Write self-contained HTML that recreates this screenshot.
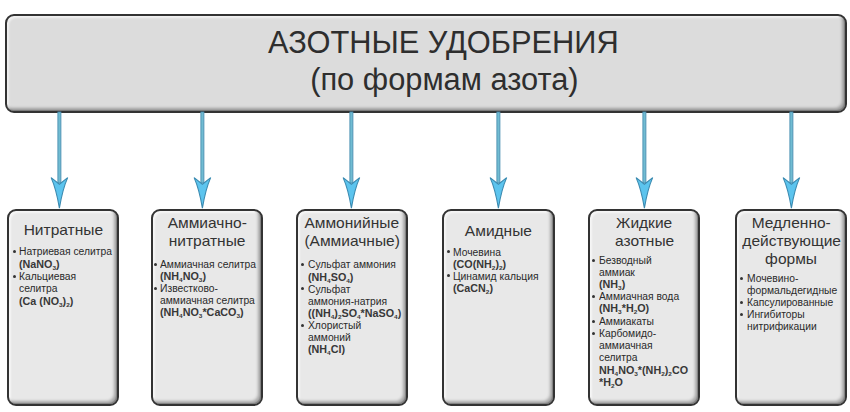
<!DOCTYPE html>
<html><head><meta charset="utf-8">
<style>
html,body{margin:0;padding:0;background:#fff;width:850px;height:412px;overflow:hidden;position:relative;font-family:"Liberation Sans",sans-serif;color:#333;}
.bx{position:absolute;box-sizing:border-box;border:2px solid #333;border-radius:9px;
 box-shadow: inset -3px -3px 3px rgba(0,0,0,0.28), inset -1px -1px 1px rgba(0,0,0,0.25), inset 2px 2px 2px rgba(255,255,255,0.6);}
.hdr{background:#dcdcdc;}
.box{background:#e8e8e8;}
.ht{position:absolute;white-space:nowrap;font-size:30.8px;line-height:30.8px;color:#2e2e2e;}
.tw{position:absolute;text-align:center;white-space:nowrap;font-size:15px;line-height:15px;}
.t{display:inline-block;font-size:15px;line-height:15px;color:#333;-webkit-text-stroke:0px #333;transform:scaleX(1.035);transform-origin:50% 0;}
.l{position:absolute;white-space:nowrap;font-size:10px;line-height:10px;color:#2a2a2a;-webkit-text-stroke:0.0px #2a2a2a;transform:scaleX(1.03);transform-origin:0 0;}
.f{font-weight:bold;-webkit-text-stroke:0px #333;color:#383838;font-size:10px;line-height:10px;transform:scaleX(1.075);}
.dot{position:absolute;width:3px;height:3px;border-radius:50%;background:#333;}
sub{font-size:6.0px;vertical-align:-2.0px;line-height:0;}
svg{position:absolute;left:0;top:0;}
</style></head><body>
<div class="bx hdr" style="left:5.4px;top:13.5px;width:841.9px;height:99.1px;border-width:2px;"></div>
<div class="ht" style="left:268px;top:28.00px;">АЗОТНЫЕ УДОБРЕНИЯ</div>
<div class="ht" style="left:310.2px;top:65.30px;">(по формам азота)</div>
<svg width="850" height="412" viewBox="0 0 850 412"><rect x="57.9" y="112" width="3" height="71" fill="#70bcd2" stroke="#4b8fb2" stroke-width="0.9"/><path d="M51.1,177.6 Q56.2,189 59.4,208.2 Q62.6,189 67.7,177.6 L59.4,184.2 Z" fill="#5cc4ee" stroke="#3b8ab0" stroke-width="1.1" stroke-linejoin="miter"/><rect x="200.9" y="112" width="3" height="71" fill="#70bcd2" stroke="#4b8fb2" stroke-width="0.9"/><path d="M194.1,177.6 Q199.2,189 202.4,208.2 Q205.6,189 210.7,177.6 L202.4,184.2 Z" fill="#5cc4ee" stroke="#3b8ab0" stroke-width="1.1" stroke-linejoin="miter"/><rect x="349.9" y="112" width="3" height="71" fill="#70bcd2" stroke="#4b8fb2" stroke-width="0.9"/><path d="M343.1,177.6 Q348.2,189 351.4,208.2 Q354.6,189 359.7,177.6 L351.4,184.2 Z" fill="#5cc4ee" stroke="#3b8ab0" stroke-width="1.1" stroke-linejoin="miter"/><rect x="496.9" y="112" width="3" height="71" fill="#70bcd2" stroke="#4b8fb2" stroke-width="0.9"/><path d="M490.1,177.6 Q495.2,189 498.4,208.2 Q501.6,189 506.7,177.6 L498.4,184.2 Z" fill="#5cc4ee" stroke="#3b8ab0" stroke-width="1.1" stroke-linejoin="miter"/><rect x="642.9" y="112" width="3" height="71" fill="#70bcd2" stroke="#4b8fb2" stroke-width="0.9"/><path d="M636.1,177.6 Q641.2,189 644.4,208.2 Q647.6,189 652.7,177.6 L644.4,184.2 Z" fill="#5cc4ee" stroke="#3b8ab0" stroke-width="1.1" stroke-linejoin="miter"/><rect x="789.9" y="112" width="3" height="71" fill="#70bcd2" stroke="#4b8fb2" stroke-width="0.9"/><path d="M783.1,177.6 Q788.2,189 791.4,208.2 Q794.6,189 799.7,177.6 L791.4,184.2 Z" fill="#5cc4ee" stroke="#3b8ab0" stroke-width="1.1" stroke-linejoin="miter"/></svg>
<div class="bx box" style="left:7.2px;top:209.4px;width:111.8px;height:196.6px;"></div>
<div class="tw" style="left:7.2px;width:111.8px;top:221.70px;"><span class="t">Нитратные</span></div>
<div class="dot" style="left:12.6px;top:250.1px;"></div>
<div class="l" style="left:19px;top:247.30px;">Натриевая селитра</div>
<div class="l f" style="left:19px;top:260.00px;">(NaNO<sub>3</sub>)</div>
<div class="dot" style="left:12.6px;top:274.5px;"></div>
<div class="l" style="left:19px;top:271.70px;">Кальциевая</div>
<div class="l" style="left:19px;top:284.00px;">селитра</div>
<div class="l f" style="left:19px;top:296.50px;">(Ca (NO<sub>3</sub>)<sub>2</sub>)</div>
<div class="bx box" style="left:150.5px;top:209.4px;width:112.5px;height:196.6px;"></div>
<div class="tw" style="left:150.5px;width:112.5px;top:214.90px;"><span class="t">Аммиачно-</span></div>
<div class="tw" style="left:150.5px;width:112.5px;top:233.30px;"><span class="t">нитратные</span></div>
<div class="dot" style="left:154.4px;top:262.7px;"></div>
<div class="l" style="left:160.3px;top:259.90px;">Аммиачная селитра</div>
<div class="l f" style="left:160.3px;top:272.00px;">(NH<sub>4</sub>NO<sub>3</sub>)</div>
<div class="dot" style="left:154.4px;top:286.5px;"></div>
<div class="l" style="left:160.3px;top:283.70px;">Известково-</div>
<div class="l" style="left:160.3px;top:295.60px;">аммиачная селитра</div>
<div class="l f" style="left:160.3px;top:308.00px;">(NH<sub>4</sub>NO<sub>3</sub>*CaCO<sub>3</sub>)</div>
<div class="bx box" style="left:296.3px;top:209.4px;width:111.7px;height:196.6px;"></div>
<div class="tw" style="left:296.3px;width:111.7px;top:214.60px;"><span class="t">Аммонийные</span></div>
<div class="tw" style="left:296.3px;width:111.7px;top:232.70px;"><span class="t">(Аммиачные)</span></div>
<div class="dot" style="left:300.9px;top:263.0px;"></div>
<div class="l" style="left:307.7px;top:260.20px;">Сульфат аммония</div>
<div class="l f" style="left:307.7px;top:272.50px;">(NH<sub>4</sub>SO<sub>4</sub>)</div>
<div class="dot" style="left:300.9px;top:287.4px;"></div>
<div class="l" style="left:307.7px;top:284.60px;">Сульфат</div>
<div class="l" style="left:307.7px;top:296.70px;">аммония-натрия</div>
<div class="l f" style="left:307.7px;top:308.80px;">((NH<sub>4</sub>)<sub>2</sub>SO<sub>4</sub>*NaSO<sub>4</sub>)</div>
<div class="dot" style="left:300.9px;top:323.6px;"></div>
<div class="l" style="left:307.7px;top:320.80px;">Хлористый</div>
<div class="l" style="left:307.7px;top:332.80px;">аммоний</div>
<div class="l f" style="left:307.7px;top:344.80px;">(NH<sub>4</sub>Cl)</div>
<div class="bx box" style="left:442.2px;top:209.4px;width:112.6px;height:196.6px;"></div>
<div class="tw" style="left:442.2px;width:112.6px;top:222.80px;"><span class="t">Амидные</span></div>
<div class="dot" style="left:446.8px;top:250.3px;"></div>
<div class="l" style="left:453.1px;top:247.50px;">Мочевина</div>
<div class="l f" style="left:453.1px;top:260.00px;">(CO(NH<sub>2</sub>)<sub>2</sub>)</div>
<div class="dot" style="left:446.8px;top:274.4px;"></div>
<div class="l" style="left:453.1px;top:271.60px;">Цинамид кальция</div>
<div class="l f" style="left:453.1px;top:284.00px;">(CaCN<sub>2</sub>)</div>
<div class="bx box" style="left:588.2px;top:209.4px;width:112.3px;height:196.6px;"></div>
<div class="tw" style="left:588.2px;width:112.3px;top:214.90px;"><span class="t">Жидкие</span></div>
<div class="tw" style="left:588.2px;width:112.3px;top:233.00px;"><span class="t">азотные</span></div>
<div class="dot" style="left:592.0px;top:258.7px;"></div>
<div class="l" style="left:599px;top:255.90px;">Безводный</div>
<div class="l" style="left:599px;top:267.90px;">аммиак</div>
<div class="l f" style="left:599px;top:280.20px;">(NH<sub>3</sub>)</div>
<div class="dot" style="left:592.0px;top:295.1px;"></div>
<div class="l" style="left:599px;top:292.30px;">Аммиачная вода</div>
<div class="l f" style="left:599px;top:304.30px;">(NH<sub>3</sub>*H<sub>2</sub>O)</div>
<div class="dot" style="left:592.0px;top:319.8px;"></div>
<div class="l" style="left:599px;top:317.00px;">Аммиакаты</div>
<div class="dot" style="left:592.0px;top:332.0px;"></div>
<div class="l" style="left:599px;top:329.20px;">Карбомидо-</div>
<div class="l" style="left:599px;top:341.10px;">аммиачная</div>
<div class="l" style="left:599px;top:353.40px;">селитра</div>
<div class="l f" style="left:599px;top:365.60px;">NH<sub>4</sub>NO<sub>3</sub>*(NH<sub>2</sub>)<sub>2</sub>CO</div>
<div class="l f" style="left:599px;top:377.60px;">*H<sub>2</sub>O</div>
<div class="bx box" style="left:735.2px;top:209.4px;width:112px;height:196.6px;"></div>
<div class="tw" style="left:735.2px;width:112px;top:215.30px;"><span class="t">Медленно-</span></div>
<div class="tw" style="left:735.2px;width:112px;top:233.30px;"><span class="t">действующие</span></div>
<div class="tw" style="left:735.2px;width:112px;top:251.30px;"><span class="t">формы</span></div>
<div class="dot" style="left:739.8px;top:276.8px;"></div>
<div class="l" style="left:746.5px;top:274.00px;">Мочевино-</div>
<div class="l" style="left:746.5px;top:285.90px;">формальдегидные</div>
<div class="dot" style="left:739.8px;top:300.6px;"></div>
<div class="l" style="left:746.5px;top:297.80px;">Капсулированные</div>
<div class="dot" style="left:739.8px;top:312.5px;"></div>
<div class="l" style="left:746.5px;top:309.70px;">Ингибиторы</div>
<div class="l" style="left:746.5px;top:321.80px;">нитрификации</div>
</body></html>
